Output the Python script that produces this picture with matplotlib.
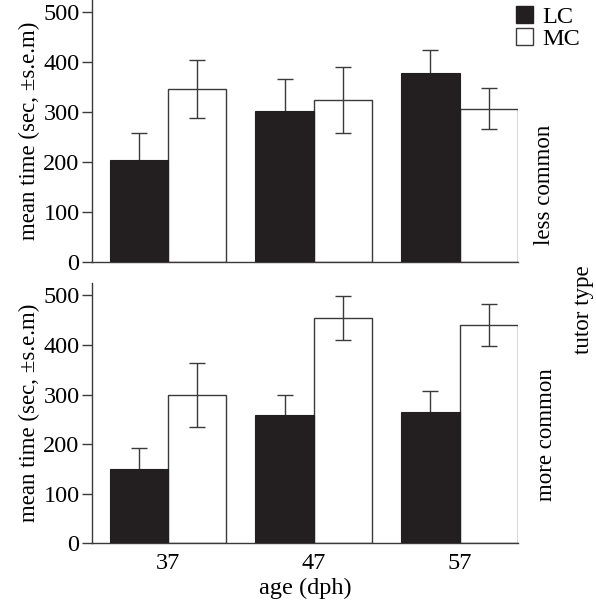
import matplotlib
matplotlib.use("Agg")
import matplotlib.pyplot as plt
import numpy as np
from matplotlib.patches import Patch

plt.rcParams['font.family'] = ['Liberation Serif', 'DejaVu Serif']

ages = ["37", "47", "57"]
series = ["LC", "MC"]
# less common tutor type
lc_less = [205, 302, 378]
lc_less_err = [53, 65, 46]
mc_less = [346, 325, 307]
mc_less_err = [58, 66, 41]
# more common tutor type
lc_more = [149, 259, 265]
lc_more_err = [43, 40, 43]
mc_more = [299, 454, 440]
mc_more_err = [64, 44, 42]

W, H = 596, 604
fig = plt.figure(figsize=(W / 100, H / 100), dpi=100)

left = 92 / W
right = 518 / W
ax_top = fig.add_axes([left, 1 - 262 / H, right - left, 262 / H])
ax_bot = fig.add_axes([left, 1 - 543.3 / H, right - left, (543.3 - 283) / H])

black = '#231f20'
edge = '#3a3a3a'
fs = 16.5    # rotated text
fsh = 17.5   # horizontal text
x = np.arange(len(ages))
bw = 0.4

def draw(ax, lc, lce, mc, mce):
    ax.bar(x - bw / 2, lc, bw, color=black, edgecolor=black, linewidth=0.8, zorder=3)
    ax.bar(x + bw / 2, mc, bw, color='white', edgecolor=edge, linewidth=1.0, zorder=2)
    ax.errorbar(x - bw / 2, lc, yerr=lce, fmt='none', ecolor=edge, elinewidth=1.0,
                capsize=5.5, capthick=1.0, zorder=2)
    ax.errorbar(x + bw / 2, mc, yerr=mce, fmt='none', ecolor=edge, elinewidth=1.0,
                capsize=5.5, capthick=1.0, zorder=3)
    ax.set_xlim(-0.52, 2.4)
    ax.set_ylim(0, 525)
    ax.set_yticks([0, 100, 200, 300, 400, 500])
    ax.spines['top'].set_visible(False)
    ax.spines['right'].set_visible(False)
    for s in ['left', 'bottom']:
        ax.spines[s].set_color(edge)
        ax.spines[s].set_linewidth(1.0)
    ax.tick_params(axis='y', direction='out', length=7, width=1.0, color=edge,
                   labelsize=fsh, pad=2)
    ax.tick_params(axis='x', length=0, labelsize=fsh, pad=7)
    ax.set_ylabel("mean time (sec, ±s.e.m)", fontsize=fs, labelpad=2)

draw(ax_top, lc_less, lc_less_err, mc_less, mc_less_err)
draw(ax_bot, lc_more, lc_more_err, mc_more, mc_more_err)

ax_top.set_xticks(x)
ax_top.set_xticklabels([])
ax_bot.set_xticks(x)
ax_bot.set_xticklabels(ages)
ax_bot.set_xlabel("age (dph)", fontsize=fsh, labelpad=3)

# right-side labels
fig.text(545 / W, 1 - 185 / H, "less common", rotation=90, ha='center', va='center', fontsize=fs)
fig.text(547 / W, 1 - 435 / H, "more common", rotation=90, ha='center', va='center', fontsize=fs)
fig.text(584 / W, 1 - 310 / H, "tutor type", rotation=90, ha='center', va='center', fontsize=fs)

# legend
handles = [Patch(facecolor=black, edgecolor=black, label=series[0]),
           Patch(facecolor='white', edgecolor=edge, label=series[1])]
leg = fig.legend(handles=handles, loc='upper left', bbox_to_anchor=(516 / W, 1 - 6 / H),
                 frameon=False, fontsize=fsh, handlelength=0.7, handleheight=0.7,
                 handletextpad=0.4, labelspacing=0.0, borderpad=0, borderaxespad=0)

fig.savefig("out.png", dpi=100)
